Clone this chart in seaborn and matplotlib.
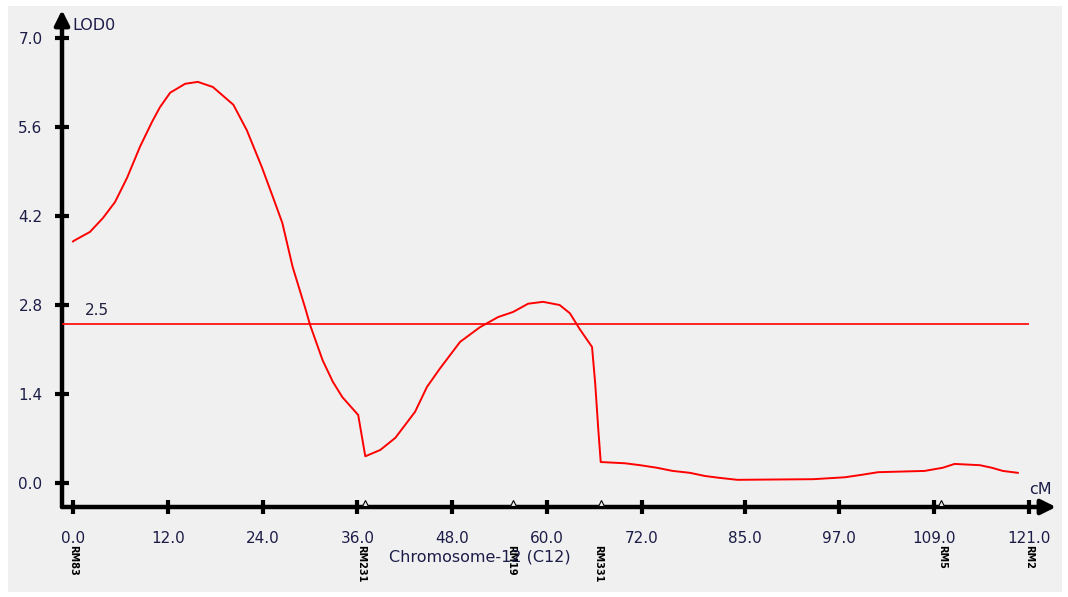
import matplotlib
matplotlib.use("Agg")
import matplotlib.pyplot as plt
from matplotlib.patches import Rectangle
import seaborn as sns
import pandas as pd

# ---- data ----
position_cM = [0.0, 0.25, 2.15, 3.8, 5.32, 6.84, 8.48, 10.0, 11.0, 12.3, 14.2, 15.8, 17.7,
               20.3, 22.0, 23.9, 25.3, 26.5, 27.8, 29.4, 30.0, 31.6, 32.9, 34.1, 36.1, 37.0,
               38.9, 40.8, 43.3, 44.8, 46.5, 49.0, 51.5, 53.8, 55.7, 57.6, 59.5, 61.6, 62.9,
               64.2, 65.7, 66.1, 66.5, 66.8, 69.9, 71.8, 73.9, 75.9, 78.1, 80.0, 81.9, 84.1,
               93.7, 97.7, 99.9, 101.9, 107.8, 110.1, 111.6, 114.8, 116.3, 117.7, 119.6]
lod = [3.80, 3.82, 3.95, 4.17, 4.42, 4.80, 5.29, 5.68, 5.91, 6.14, 6.28, 6.31, 6.23,
       5.95, 5.55, 4.97, 4.50, 4.09, 3.40, 2.75, 2.49, 1.93, 1.59, 1.35, 1.07, 0.42,
       0.52, 0.71, 1.12, 1.51, 1.81, 2.22, 2.45, 2.61, 2.69, 2.82, 2.85, 2.80, 2.67,
       2.41, 2.14, 1.57, 0.83, 0.33, 0.31, 0.28, 0.24, 0.19, 0.16, 0.11, 0.08, 0.05,
       0.06, 0.09, 0.13, 0.17, 0.19, 0.24, 0.30, 0.28, 0.24, 0.19, 0.16]

threshold = 2.5
x_ticks = [0.0, 12.0, 24.0, 36.0, 48.0, 60.0, 72.0, 85.0, 97.0, 109.0, 121.0]
y_ticks = [0.0, 1.4, 2.8, 4.2, 5.6, 7.0]
marker_tri_pos = [36.9, 55.7, 66.8, 109.9]
marker_label_pos = [0.0, 36.5, 55.5, 66.5, 110.0, 121.0]
marker_labels = ["RM83", "RM231", "RM19", "RM331", "RM5", "RM2"]

df = pd.DataFrame({"cM": position_cM, "LOD": lod})

W, H = 1068, 597
fig = plt.figure(figsize=(W / 100, H / 100), dpi=100, facecolor="white")
fig.patches.append(Rectangle((8 / W, 1 - 592 / H), (1062 - 8) / W, (592 - 6) / H,
                             transform=fig.transFigure, facecolor="#f0f0f0",
                             edgecolor="none", zorder=-10))

ax_l, ax_r, ax_t, ax_b = 62, 1056, 10, 507
ax = fig.add_axes([ax_l / W, 1 - ax_b / H, (ax_r - ax_l) / W, (ax_b - ax_t) / H])
ax.set_facecolor("none")
ax.set_zorder(1)

px_per_cm = 7.9
px_per_lod = 63.57
x0_px, y0_px = 73, 483
ax.set_xlim((ax_l - x0_px) / px_per_cm, (ax_r - x0_px) / px_per_cm)
ax.set_ylim((y0_px - ax_b) / px_per_lod, (y0_px - ax_t) / px_per_lod)

for s in ax.spines.values():
    s.set_visible(False)

# axis lines with arrows
arrow_kw = dict(arrowstyle="-|>", lw=3.2, color="black", mutation_scale=22,
                shrinkA=0, shrinkB=0)
ax.annotate("", xy=(0, 1), xytext=(0, 0), xycoords="axes fraction",
            textcoords="axes fraction", arrowprops=arrow_kw, annotation_clip=False)
ax.annotate("", xy=(1, 0), xytext=(0, 0), xycoords="axes fraction",
            textcoords="axes fraction", arrowprops=arrow_kw, annotation_clip=False)

# threshold line
ax.hlines(threshold, ax.get_xlim()[0], 121.0, color="#ff0000", lw=1.2, zorder=3)
ax.text(3.0, 2.72, "2.5", ha="center", va="center", fontsize=11, color="#202040")

# LOD curve
sns.lineplot(data=df, x="cM", y="LOD", ax=ax, color="#ff0000", lw=1.4,
             sort=False, estimator=None, zorder=4)

# ticks
tick_color = "#1c1c48"
ax.set_xticks(x_ticks)
ax.set_xticklabels([f"{v:.1f}" for v in x_ticks])
ax.set_yticks(y_ticks)
ax.set_yticklabels([f"{v:.1f}" for v in y_ticks])
ax.tick_params(axis="x", direction="inout", length=10, width=3, pad=12,
               labelsize=11, labelcolor=tick_color, color="black")
ax.tick_params(axis="y", direction="inout", length=10, width=3, pad=9,
               labelsize=11, labelcolor=tick_color, color="black")
ax.set_xlabel("")
ax.set_ylabel("")

# marker triangles on the axis
ax.plot(marker_tri_pos, [0.009] * len(marker_tri_pos), linestyle="none", marker="^",
        markersize=5, markerfacecolor="#f0f0f0", markeredgecolor="black",
        markeredgewidth=0.8, transform=ax.get_xaxis_transform(), clip_on=False, zorder=5)

# marker names (rotated)
for p, name in zip(marker_label_pos, marker_labels):
    ax.annotate(name, xy=(p, 0), xycoords=("data", "axes fraction"),
                xytext=(0, -38 * 0.72), textcoords="offset points", rotation=270,
                ha="center", va="top", fontsize=7, fontweight="bold", color="black",
                annotation_clip=False)

# axis titles
fig.text(480 / W, 1 - 557 / H, "Chromosome-12 (C12)", ha="center", va="center",
         fontsize=11.5, color=tick_color)
fig.text(72 / W, 1 - 26 / H, "LOD0", ha="left", va="center", fontsize=11.5,
         color=tick_color)
fig.text(1040 / W, 1 - 490 / H, "cM", ha="center", va="center", fontsize=11.5,
         color=tick_color)

fig.savefig("out.png", dpi=100, facecolor=fig.get_facecolor())
